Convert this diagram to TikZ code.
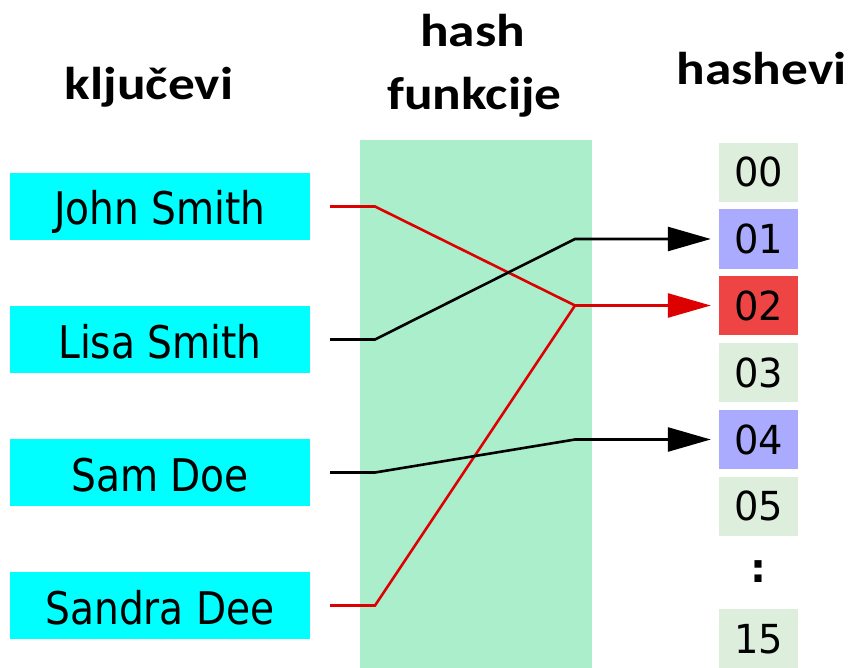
\documentclass[tikz,border=0pt]{standalone}
\usepackage{graphicx}
\usepackage{fontspec}
\setmainfont{DejaVu Sans}
\newfontfamily\headfont{Carlito}
\usetikzlibrary{arrows.meta}
\definecolor{keycyan}{HTML}{00FFFF}
\definecolor{bandgreen}{HTML}{AAEECC}
\definecolor{cellgreen}{HTML}{DDEEDD}
\definecolor{cellblue}{HTML}{AAAAFF}
\definecolor{cellred}{HTML}{EE4444}
\definecolor{linered}{HTML}{DD0000}
\newcommand{\ktext}[1]{\scalebox{0.87}[1]{#1}}
\newcommand{\ctext}[1]{\scalebox{0.96}[1]{#1}}
\newcommand{\htext}[1]{\scalebox{1.16}[1]{#1}}
\tikzset{
  keybox/.style={fill=keycyan, minimum width=300pt, minimum height=67pt, inner sep=0pt,
    text height=37pt, text depth=0pt, font=\fontsize{45}{48}\selectfont},
  cell/.style={fill=cellgreen, minimum width=79pt, minimum height=59pt, inner sep=0pt,
    text height=29pt, text depth=0pt, font=\fontsize{40}{44}\selectfont},
  head/.style={font=\headfont\bfseries\fontsize{46}{52}\selectfont, anchor=base, inner sep=0pt},
  conn/.style={line width=2.6pt},
  tip/.style={-{Triangle[length=43pt,width=24pt]}, shorten >=8pt}
}
\begin{document}
\begin{tikzpicture}[x=1pt,y=-1pt]
\useasboundingbox (0,0) rectangle (850,668);
\fill[bandgreen] (360,140) rectangle (592,668);
\node[head] (hk) at (149,100) {\htext{ključevi}};
\node[head] (hf1) at (472.5,47) {\htext{hash}};
\node[head] (hf2) at (474.5,110) {\htext{funkcije}};
\node[head] (hh) at (761.5,85) {\htext{hashevi}};
\node[keybox] (k1) at (160,206.5) {\ktext{John Smith}};
\node[keybox] (k2) at (160,339.5) {\ktext{Lisa Smith}};
\node[keybox] (k3) at (160,472.5) {\ktext{Sam Doe}};
\node[keybox] (k4) at (160,605.5) {\ktext{Sandra Dee}};
\node[cell] (h0) at (758.5,172.5) {\ctext{00}};
\node[cell, fill=cellblue] (h1) at (758.5,239) {\ctext{01}};
\node[cell, fill=cellred] (h2) at (758.5,305.5) {\ctext{02}};
\node[cell] (h3) at (758.5,372.5) {\ctext{03}};
\node[cell, fill=cellblue] (h4) at (758.5,439.5) {\ctext{04}};
\node[cell] (h5) at (758.5,506) {\ctext{05}};
\node[font=\bfseries\fontsize{40}{44}\selectfont] (hd) at (758.5,572) {:};
\node[cell] (h15) at (758.5,638.5) {\ctext{15}};
\coordinate (s1) at ([xshift=20pt]k1.east);
\coordinate (s2) at ([xshift=20pt]k2.east);
\coordinate (s3) at ([xshift=20pt]k3.east);
\coordinate (s4) at ([xshift=20pt]k4.east);
\coordinate (b1) at (375,206.5);
\coordinate (b2) at (375,339.5);
\coordinate (b3) at (375,472.5);
\coordinate (b4) at (375,605.5);
\coordinate (m1) at (575,239);
\coordinate (m2) at (575,305.5);
\coordinate (m4) at (575,439.5);
\draw[conn, linered] (s1) -- (b1) -- (m2);
\draw[conn, linered] (s4) -- (b4) -- (m2);
\draw[conn, linered, tip] (m2) -- (h2.west);
\draw[conn, tip] (s2) -- (b2) -- (m1) -- (h1.west);
\draw[conn, tip] (s3) -- (b3) -- (m4) -- (h4.west);
\end{tikzpicture}
\end{document}
